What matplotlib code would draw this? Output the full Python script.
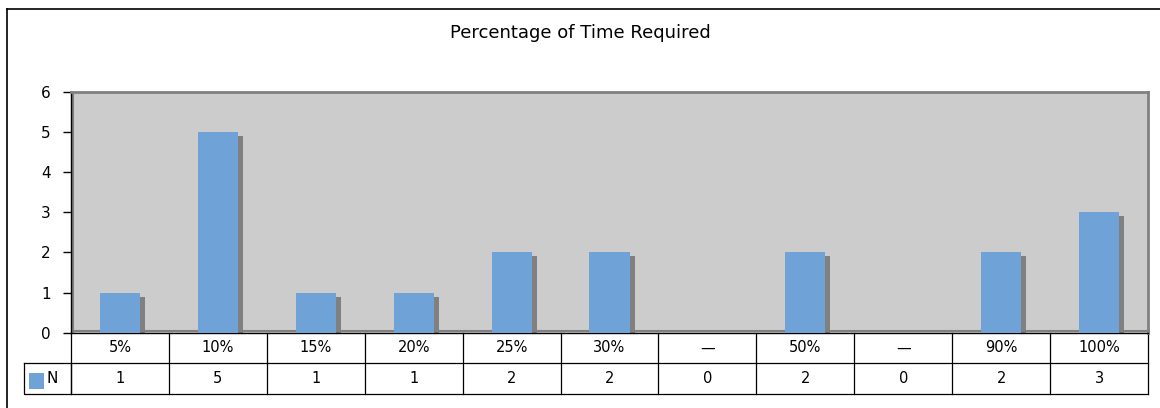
import matplotlib
matplotlib.use("Agg")
import matplotlib.pyplot as plt
from matplotlib.patches import Rectangle
from matplotlib.lines import Line2D
import matplotlib.transforms as mtransforms

title = "Percentage of Time Required"
categories = ["5%", "10%", "15%", "20%", "25%", "30%", "\u2014", "50%", "\u2014", "90%", "100%"]
counts = [1, 5, 1, 1, 2, 2, 0, 2, 0, 2, 3]
series_name = "N"

bar_color = "#6FA3D8"
shadow_color = "#808080"
wall_color = "#CCCCCC"

W, H = 1160, 408
fig = plt.figure(figsize=(W / 100, H / 100), dpi=100)
fig.patch.set_facecolor("white")

# outer chart frame (left and top edges visible)
fig.add_artist(Line2D([6.5 / W, 6.5 / W], [0, 1 - 8.5 / H], transform=fig.transFigure,
                      color="black", lw=1.2))
fig.add_artist(Line2D([6.5 / W, 1], [1 - 8.5 / H, 1 - 8.5 / H], transform=fig.transFigure,
                      color="black", lw=1.2))

left, right = 71 / W, 1148 / W
bottom, top = 1 - 332.7 / H, 1 - 92 / H
ax = fig.add_axes([left, bottom, right - left, top - bottom])
ax.set_facecolor(wall_color)

x = list(range(len(categories)))
bar_w = 0.41
px_x = 1 / 97.9   # one pixel in data x units
px_y = 1 / 40.0   # one pixel in data y units

for xi, v in zip(x, counts):
    if v <= 0:
        continue
    ax.add_patch(Rectangle((xi - bar_w / 2 + 5 * px_x, 0), bar_w, v - 4 * px_y,
                           facecolor=shadow_color, edgecolor="none", zorder=2))
ax.bar(x, counts, width=bar_w, color=bar_color, edgecolor="none", zorder=3)

# grey wall edge next to the value axis
ax.axvline(-0.5 + 1.5 * px_x, color="#808080", lw=1.5, zorder=1)
ax.axhline(2 * px_y, color="#808080", lw=1.5, zorder=1)

ax.set_xlim(-0.5, len(categories) - 0.5)
ax.set_ylim(0, 6)
ax.set_yticks(range(0, 7))
ax.set_xticks([])
ax.tick_params(axis="y", direction="out", length=6, width=1, labelsize=11, pad=8.5)

for side in ["top", "right"]:
    ax.spines[side].set_color("#808080")
    ax.spines[side].set_linewidth(2)
ax.spines["left"].set_color("black")
ax.spines["bottom"].set_color("black")
ax.spines["left"].set_linewidth(1)
ax.spines["bottom"].set_linewidth(1)

fig.text(0.5, 1 - 33 / H, title, ha="center", va="center", fontsize=13)

# data table under the axis
trans = mtransforms.blended_transform_factory(ax.transData, fig.transFigure)
y0 = 1 - 332.7 / H
y1 = 1 - 363 / H
y2 = 1 - 394 / H
lc = "black"
lw = 0.9
n = len(categories)
for k in range(n + 1):
    xb = k - 0.5
    ax.add_line(Line2D([xb, xb], [y2, y0], transform=trans, color=lc, lw=lw, clip_on=False))
for yy in (y1, y2):
    ax.add_line(Line2D([-0.5, n - 0.5], [yy, yy], transform=trans, color=lc, lw=lw, clip_on=False))

for xi, lab, v in zip(x, categories, counts):
    ax.text(xi, (y0 + y1) / 2, lab, transform=trans, ha="center", va="center", fontsize=10.5)
    ax.text(xi, (y1 + y2) / 2, str(v), transform=trans, ha="center", va="center", fontsize=10.5)

# legend key cell
lx0, lx1 = 23.5 / W, 71 / W
fig.add_artist(Line2D([lx0, lx1, lx1, lx0, lx0], [y1, y1, y2, y2, y1], transform=fig.transFigure,
                      color=lc, lw=lw))
fig.add_artist(Rectangle((29 / W, 1 - 389 / H), 15 / W, 16 / H, transform=fig.transFigure,
                         facecolor=bar_color, edgecolor="none"))
fig.text(47 / W, (y1 + y2) / 2, series_name, ha="left", va="center", fontsize=11)

fig.savefig("out.png", dpi=100)
